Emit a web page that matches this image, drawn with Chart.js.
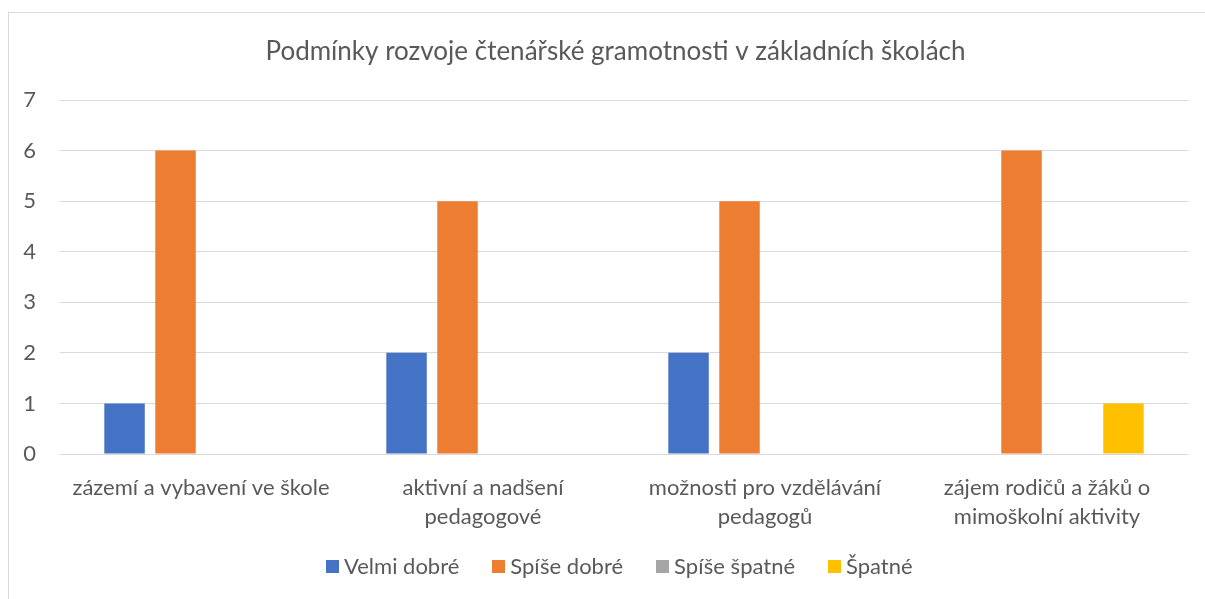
<!DOCTYPE html>
<html>
<head>
<meta charset="utf-8">
<script src="https://cdn.jsdelivr.net/npm/chart.js@4.4.1/dist/chart.umd.min.js"></script>
<style>
html,body{margin:0;padding:0;background:#fff;}
#wrap{width:1205px;height:599px;position:relative;}
</style>
</head>
<body>
<div id="wrap"><canvas id="c" width="1205" height="599"></canvas></div>
<script>
const chartTitle = 'Podmínky rozvoje čtenářské gramotnosti v základních školách';
const categories = [
  'zázemí a vybavení ve škole',
  ['aktivní a nadšení', 'pedagogové'],
  ['možnosti pro vzdělávání', 'pedagogů'],
  ['zájem rodičů a žáků o', 'mimoškolní aktivity']
];
const seriesNames = ['Velmi dobré', 'Spíše dobré', 'Spíše špatné', 'Špatné'];
const velmiDobre = [1, 2, 2, 0];
const spiseDobre = [6, 5, 5, 6];
const spiseSpatne = [0, 0, 0, 0];
const spatne = [0, 0, 0, 1];
const seriesColors = ['#4472C4', '#ED7D31', '#A5A5A5', '#FFC000'];
const yTicks = [0, 1, 2, 3, 4, 5, 6, 7];

const FONT = 'Lato, "Open Sans", sans-serif';
const TEXT = '#595959';

const framePlugin = {
  id: 'frame',
  beforeDraw(chart) {
    const ctx = chart.ctx;
    ctx.save();
    ctx.fillStyle = '#fff';
    ctx.fillRect(0, 0, chart.width, chart.height);
    ctx.strokeStyle = '#D9D9D9';
    ctx.lineWidth = 1;
    ctx.strokeRect(8.5, 12.5, 1300, 700);
    ctx.restore();
  },
  afterDraw(chart) {
    const ctx = chart.ctx;
    ctx.save();
    // title
    ctx.fillStyle = TEXT;
    ctx.font = '26px ' + FONT;
    ctx.textAlign = 'center';
    ctx.textBaseline = 'alphabetic';
    ctx.fillText(chartTitle, 615.5, 60);
    // legend
    ctx.font = '22px ' + FONT;
    const ds = chart.data.datasets;
    const box = 13, gapBT = 5, gapItem = 33;
    const widths = ds.map(d => box + gapBT + ctx.measureText(d.label).width);
    const total = widths.reduce((a, b) => a + b, 0) + gapItem * (ds.length - 1);
    let x = Math.round(619 - total / 2);
    const base = 574;
    ctx.textAlign = 'left';
    ds.forEach((d, i) => {
      ctx.fillStyle = d.backgroundColor;
      ctx.fillRect(Math.round(x), 560, box, box);
      ctx.fillStyle = TEXT;
      ctx.fillText(d.label, x + box + gapBT, base);
      x += widths[i] + gapItem;
    });
    ctx.restore();
  }
};

const seriesData = [velmiDobre, spiseDobre, spiseSpatne, spatne];

new Chart(document.getElementById('c'), {
  type: 'bar',
  data: {
    labels: categories,
    datasets: seriesNames.map((n, i) => ({
      label: n,
      data: seriesData[i],
      backgroundColor: seriesColors[i],
      borderWidth: 0,
      categoryPercentage: 0.723,
      barPercentage: 0.794
    }))
  },
  options: {
    responsive: false,
    animation: false,
    devicePixelRatio: 1,
    layout: { padding: { left: 8, right: 17, top: 100, bottom: 65 } },
    plugins: {
      legend: { display: false },
      title: { display: false },
      tooltip: { enabled: false }
    },
    scales: {
      x: {
        grid: { display: false, drawTicks: false },
        border: { display: false },
        ticks: {
          color: TEXT,
          font: { family: FONT, size: 22, lineHeight: 1.32 },
          padding: 19,
          maxRotation: 0,
          autoSkip: false
        },
        afterFit(s) { s.height = 80; }
      },
      y: {
        min: 0,
        max: 7,
        afterBuildTicks(s) { s.ticks = yTicks.map(v => ({ value: v })); },
        grid: { color: '#D9D9D9', lineWidth: 1, drawTicks: false },
        border: { display: false },
        ticks: {
          color: TEXT,
          font: { family: FONT, size: 22 },
          padding: 24
        },
        afterFit(s) { s.width = 52; }
      }
    }
  },
  plugins: [framePlugin]
});
</script>
</body>
</html>
